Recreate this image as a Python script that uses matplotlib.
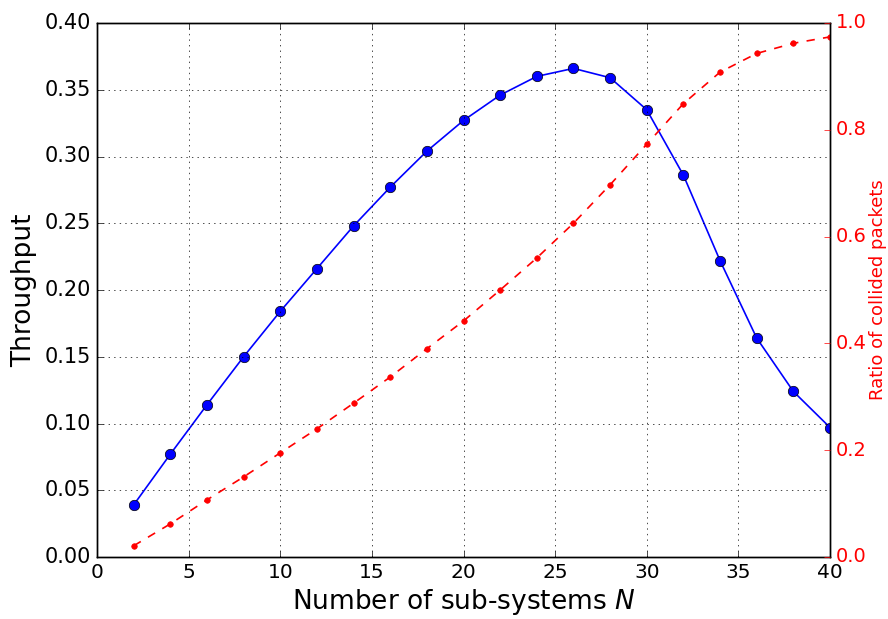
import matplotlib
matplotlib.use("Agg")
import matplotlib.pyplot as plt

plt.style.use('classic')
plt.rcParams['mathtext.fontset'] = 'dejavusans'

N = [2, 4, 6, 8, 10, 12, 14, 16, 18, 20, 22, 24, 26, 28, 30, 32, 34, 36, 38, 40]
throughput = [0.039, 0.077, 0.114, 0.150, 0.184, 0.216, 0.248, 0.277, 0.304, 0.327,
              0.346, 0.360, 0.366, 0.359, 0.335, 0.286, 0.222, 0.164, 0.124, 0.097]
collided = [0.021, 0.062, 0.107, 0.150, 0.195, 0.240, 0.288, 0.337, 0.390, 0.442,
            0.500, 0.560, 0.625, 0.697, 0.773, 0.849, 0.908, 0.943, 0.962, 0.974]

fig = plt.figure(figsize=(8.88, 6.19), dpi=100, facecolor='white')
ax = fig.add_axes([97/888, 1 - 557/619, (830-97)/888, (557-23)/619])
ax.plot(N, throughput, 'b-o', markersize=7.5, linewidth=1.2)
ax.set_xlim(0, 40)
ax.set_ylim(0, 0.40)
ax.set_yticks([0.0, 0.05, 0.10, 0.15, 0.20, 0.25, 0.30, 0.35, 0.40])
ax.set_yticklabels(['0.00', '0.05', '0.10', '0.15', '0.20', '0.25', '0.30', '0.35', '0.40'])
ax.grid(True)
ax.tick_params(axis='y', labelsize=15)
ax.tick_params(axis='x', labelsize=14.5)
ax.set_xlabel('Number of sub-systems $N$', fontsize=19, labelpad=4)
ax.set_ylabel('Throughput', fontsize=19, labelpad=6)

ax2 = ax.twinx()
ax2.plot(N, collided, 'r--.', markersize=8, linewidth=1.2)
ax2.set_ylim(0, 1.0)
ax2.set_xlim(0, 40)
ax2.set_yticks([0.0, 0.2, 0.4, 0.6, 0.8, 1.0])
ax2.tick_params(labelsize=14, colors='red', which='both')
for t in ax2.yaxis.get_ticklines():
    t.set_color('black')
ax2.set_ylabel('Ratio of collided packets', color='red', fontsize=13, labelpad=2)

fig.savefig('out.png', dpi=100, facecolor='white')
